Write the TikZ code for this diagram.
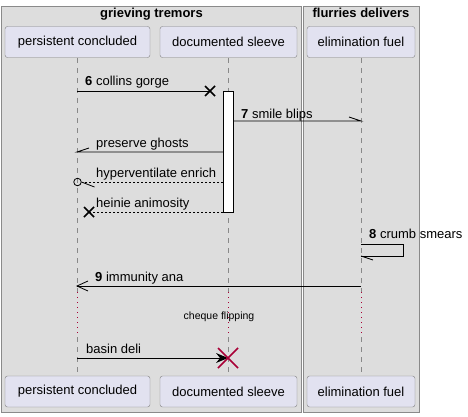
\documentclass[tikz,border=0pt]{standalone}
\usepackage{fontspec}
\setmainfont{Liberation Sans}
\usetikzlibrary{calc}
\definecolor{grpfill}{HTML}{DDDDDD}
\definecolor{grpline}{HTML}{8A8A8A}
\definecolor{partfill}{HTML}{E2E2F0}
\definecolor{partline}{HTML}{7F7F7F}
\definecolor{lifegray}{HTML}{888888}
\definecolor{crim}{HTML}{A80036}
\begin{document}
\begin{tikzpicture}[x=1pt,y=-1pt,
  grp/.style={draw=grpline, fill=grpfill, line width=0.9pt, inner sep=0, anchor=north west},
  part/.style={draw=partline, fill=partfill, rounded corners=2.5pt, minimum height=31pt, inner sep=0, font=\fontsize{13}{15}\selectfont},
  lifeline/.style={draw=lifegray, line width=0.6pt, dash pattern=on 5pt off 5pt},
  delayline/.style={draw=crim, line width=0.8pt, dash pattern=on 1pt off 4pt},
  msg/.style={line width=0.8pt, black},
  dmsg/.style={line width=0.6pt, black, dash pattern=on 2pt off 2pt},
  lbl/.style={font=\fontsize{13}{15}\selectfont, anchor=base west, inner sep=0},
  gtitle/.style={font=\fontsize{13}{15}\selectfont\bfseries, anchor=base, inner sep=0},
  xmark/.style={line width=1.6pt, black},
  actbar/.style={draw=black, fill=white, line width=0.8pt}
]
\useasboundingbox (0,0) rectangle (468,417);
% groups
\node[grp, minimum width=300pt, minimum height=406pt] (g1) at (1,6) {};
\node[grp, minimum width=116pt, minimum height=406pt] (g2) at (303,6) {};
\node[gtitle] (g1t) at (151.5,18) {grieving tremors};
\node[gtitle] (g2t) at (361,18) {flurries delivers};
% participants
\node[part, minimum width=145pt] (pAt) at (77.5,42) {persistent concluded};
\node[part, minimum width=137pt] (pBt) at (228.5,42) {documented sleeve};
\node[part, minimum width=108pt] (pCt) at (361,42) {elimination fuel};
\node[part, minimum width=145pt] (pAb) at (77.5,391.5) {persistent concluded};
\node[part, minimum width=137pt] (pBb) at (228.5,391.5) {documented sleeve};
\node[part, minimum width=108pt] (pCb) at (361,391.5) {elimination fuel};
% lifeline coordinates
\coordinate (a0) at (77,58);   \coordinate (a1) at (77,292);  \coordinate (a2) at (77,337);  \coordinate (a3) at (77,376);
\coordinate (b0) at (228,58);  \coordinate (b1) at (228,292); \coordinate (b2) at (228,337); \coordinate (b3) at (228,376);
\coordinate (c0) at (361,58);  \coordinate (c1) at (361,292); \coordinate (c2) at (361,337); \coordinate (c3) at (361,376);
\draw[lifeline] (a0) -- (a1); \draw[delayline] (a1) -- (a2); \draw[lifeline] (a2) -- (a3);
\draw[lifeline] (b0) -- (b1); \draw[delayline] (b1) -- (b2); \draw[lifeline] (b2) -- (b3);
\draw[lifeline] (c0) -- (c1); \draw[delayline] (c1) -- (c2); \draw[lifeline] (c2) -- (c3);
% activation
\node[actbar, minimum width=10pt, minimum height=121pt, inner sep=0, anchor=north] (act) at (228,91) {};
% 6 collins gorge (lost)
\coordinate (m6s) at (77,91); \coordinate (m6e) at (210,91);
\draw[msg] (m6s) -- (m6e);
\draw[xmark] ($(m6e)+(-5,-5)$) -- ($(m6e)+(5,5)$) ($(m6e)+(-5,5)$) -- ($(m6e)+(5,-5)$);
\node[lbl] (l6) at (85,86) {\textbf{6} collins gorge};
% 7 smile blips
\coordinate (m7s) at (233,121); \coordinate (m7e) at (361,121);
\draw[msg] (m7s) -- (m7e) -- ++(-12,-4);
\node[lbl] (l7) at (241,118) {\textbf{7} smile blips};
% preserve ghosts
\coordinate (mps) at (223,152); \coordinate (mpe) at (77,152);
\draw[msg] (mps) -- (mpe) -- ++(12,-4);
\node[lbl] (lp) at (96,147) {preserve ghosts};
% hyperventilate enrich
\coordinate (mhs) at (223,182); \coordinate (mhe) at (81.5,182);
\draw[dmsg] (mhs) -- (mhe);
\draw[msg] (mhe) -- ++(13,5);
\node[draw=black, line width=0.8pt, circle, minimum size=7.5pt, inner sep=0] (hc) at (77.5,182) {};
\node[lbl] (lh) at (96,177) {hyperventilate enrich};
% heinie animosity
\coordinate (mas) at (223,212); \coordinate (mae) at (89,212);
\draw[dmsg] (mas) -- (mae);
\draw[xmark] ($(mae)+(-5,-5)$) -- ($(mae)+(5,5)$) ($(mae)+(-5,5)$) -- ($(mae)+(5,-5)$);
\node[lbl] (la) at (96,207) {heinie animosity};
% 8 crumb smears (self)
\coordinate (m8s) at (361,244); \coordinate (m8e) at (361,256);
\draw[msg] (m8s) -- ++(42,0) |- (m8e);
\draw[msg] (m8e) -- ++(12,4);
\node[lbl] (l8) at (369,238) {\textbf{8} crumb smears};
% 9 immunity ana
\coordinate (m9s) at (361,286); \coordinate (m9e) at (77,286);
\draw[msg] (m9s) -- (m9e);
\draw[msg] ($(m9e)+(11,-5)$) -- (m9e) -- ($(m9e)+(11,5)$);
\node[lbl] (l9) at (95,281) {\textbf{9} immunity ana};
% delay
\node[font=\fontsize{10.5}{12}\selectfont, anchor=base, inner sep=0] (dl) at (219,319) {cheque flipping};
% basin deli (destroy)
\coordinate (mbs) at (77,358); \coordinate (mbe) at (228,358);
\draw[msg] (mbs) -- ($(mbe)+(-8,0)$);
\fill[black] (mbe) -- ++(-12,-5) -- ++(4,5) -- ++(-4,5) -- cycle;
\draw[crim, line width=1.6pt] ($(mbe)+(-10,-10)$) -- ($(mbe)+(10,10)$) ($(mbe)+(-10,10)$) -- ($(mbe)+(10,-10)$);
\node[lbl] (lb) at (86,353) {basin deli};
\end{tikzpicture}
\end{document}
